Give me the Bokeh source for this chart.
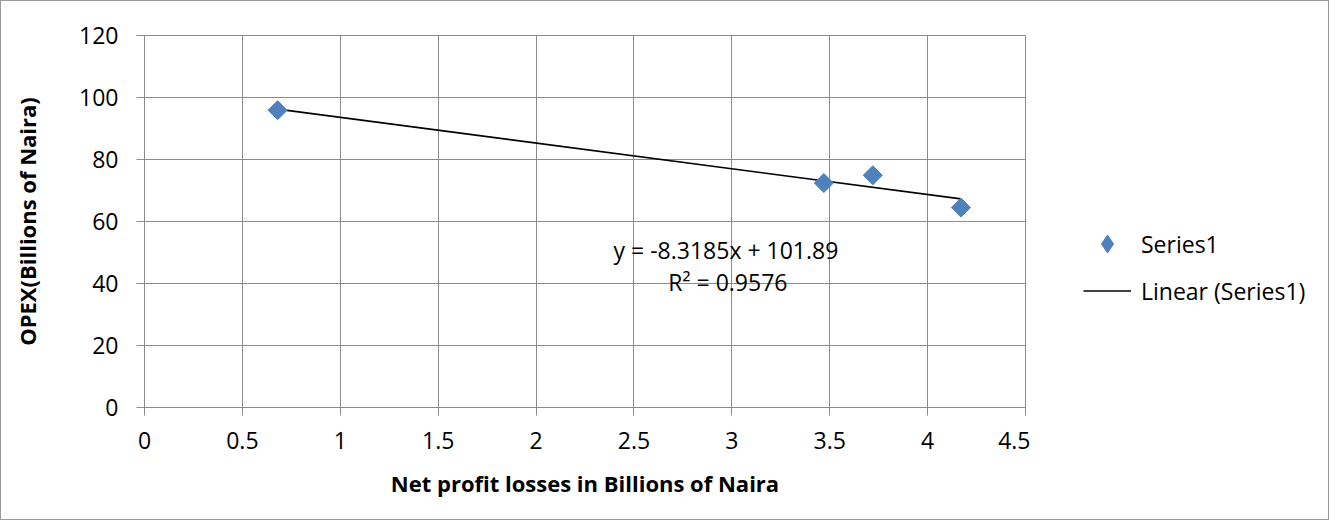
import numpy as np
from bokeh.plotting import figure
from bokeh.layouts import row
from bokeh.models import (Range1d, FixedTicker, NumeralTickFormatter, Label,
                          Legend, LegendItem)
from bokeh.embed import file_html
from bokeh.resources import INLINE

# ---- data ----
net_profit_losses = [0.68, 3.47, 3.72, 4.17]
opex = [95.9, 72.4, 74.9, 64.5]
x_ticks = [0, 0.5, 1, 1.5, 2, 2.5, 3, 3.5, 4, 4.5]
y_ticks = [0, 20, 40, 60, 80, 100, 120]
series_name = "Series1"
trend_name = "Linear (Series1)"
equation_text = "y = -8.3185x + 101.89"
r2_text = "R² = 0.9576"

FONT = "Open Sans"
GRID = "#8c8c8c"
BLUE = "#4F81BD"
H = 518

p = figure(width=1029, height=H, output_backend="svg", toolbar_location=None,
           x_range=Range1d(0, 4.5), y_range=Range1d(0, 120),
           min_border_left=143, min_border_right=5,
           min_border_top=34, min_border_bottom=112)
p.outline_line_color = GRID
p.outline_line_width = 1

for ax in (p.xaxis[0], p.yaxis[0]):
    ax.axis_line_color = GRID
    ax.major_tick_line_color = GRID
    ax.minor_tick_line_color = None
    ax.major_tick_in = 0
    ax.major_tick_out = 8
    ax.major_label_text_font = FONT
    ax.major_label_text_font_size = "23px"
    ax.major_label_text_color = "black"
    ax.axis_label_text_font = FONT
    ax.axis_label_text_font_style = "bold"
    ax.axis_label_text_font_size = "22px"
    ax.axis_label_text_color = "black"

p.xaxis.ticker = FixedTicker(ticks=x_ticks)
p.yaxis.ticker = FixedTicker(ticks=y_ticks)
p.xaxis.formatter = NumeralTickFormatter(format="0.[0]")
p.yaxis.formatter = NumeralTickFormatter(format="0")
p.xaxis.major_label_standoff = 16
p.yaxis.major_label_standoff = 18
p.xaxis.axis_label = "Net profit losses in Billions of Naira"
p.yaxis.axis_label = "OPEX(Billions of Naira)"
p.xaxis.axis_label_standoff = 16
p.yaxis.axis_label_standoff = 34

p.xgrid.grid_line_color = GRID
p.ygrid.grid_line_color = GRID
p.xgrid.ticker = FixedTicker(ticks=x_ticks)
p.ygrid.ticker = FixedTicker(ticks=y_ticks)

# trend line from least squares fit of the data
slope, intercept = np.polyfit(net_profit_losses, opex, 1)
tx = [min(net_profit_losses), max(net_profit_losses)]
ty = [slope * v + intercept for v in tx]
p.line(tx, ty, line_color="black", line_width=1.6)

p.scatter(net_profit_losses, opex, marker="square", size=13.5,
          angle=np.pi / 4, fill_color=BLUE, line_color=BLUE)

# equation labels
p.add_layout(Label(x=2.97, y=50.7, text=equation_text, text_align="center",
                   text_baseline="middle", text_font=FONT,
                   text_font_size="23px", text_color="black"))
p.add_layout(Label(x=2.98, y=40.4, text=r2_text, text_align="center",
                   text_baseline="middle", text_font=FONT,
                   text_font_size="23px", text_color="black"))

# legend area (separate panel to the right of the plot area);
# the proxy renderers hold the same data but fall outside this panel's ranges
lg = figure(width=298, height=H, output_backend="svg", toolbar_location=None,
            x_range=Range1d(0, 1), y_range=Range1d(0, 1),
            x_axis_type=None, y_axis_type=None,
            min_border_left=0, min_border_right=0,
            min_border_top=0, min_border_bottom=0)
lg.grid.visible = False
lg.outline_line_color = None
pts_l = lg.scatter(net_profit_losses, opex, marker="diamond", size=20,
                   fill_color=BLUE, line_color=BLUE)
line_l = lg.line(tx, ty, line_color="black", line_width=1.6)

legend = Legend(items=[LegendItem(label=series_name, renderers=[pts_l]),
                       LegendItem(label=trend_name, renderers=[line_l])],
                location=(53, 94), orientation="vertical",
                glyph_width=48, glyph_height=45, label_height=24,
                label_standoff=10, spacing=2, padding=0, margin=0,
                border_line_color=None, background_fill_alpha=0,
                label_text_font=FONT, label_text_font_size="23px",
                label_text_color="black")
lg.add_layout(legend, "center")

layout = row(p, lg, spacing=0)
layout.styles = {"border": "1px solid #9a9a9a"}

open("out.html", "w").write(file_html(layout, INLINE))
